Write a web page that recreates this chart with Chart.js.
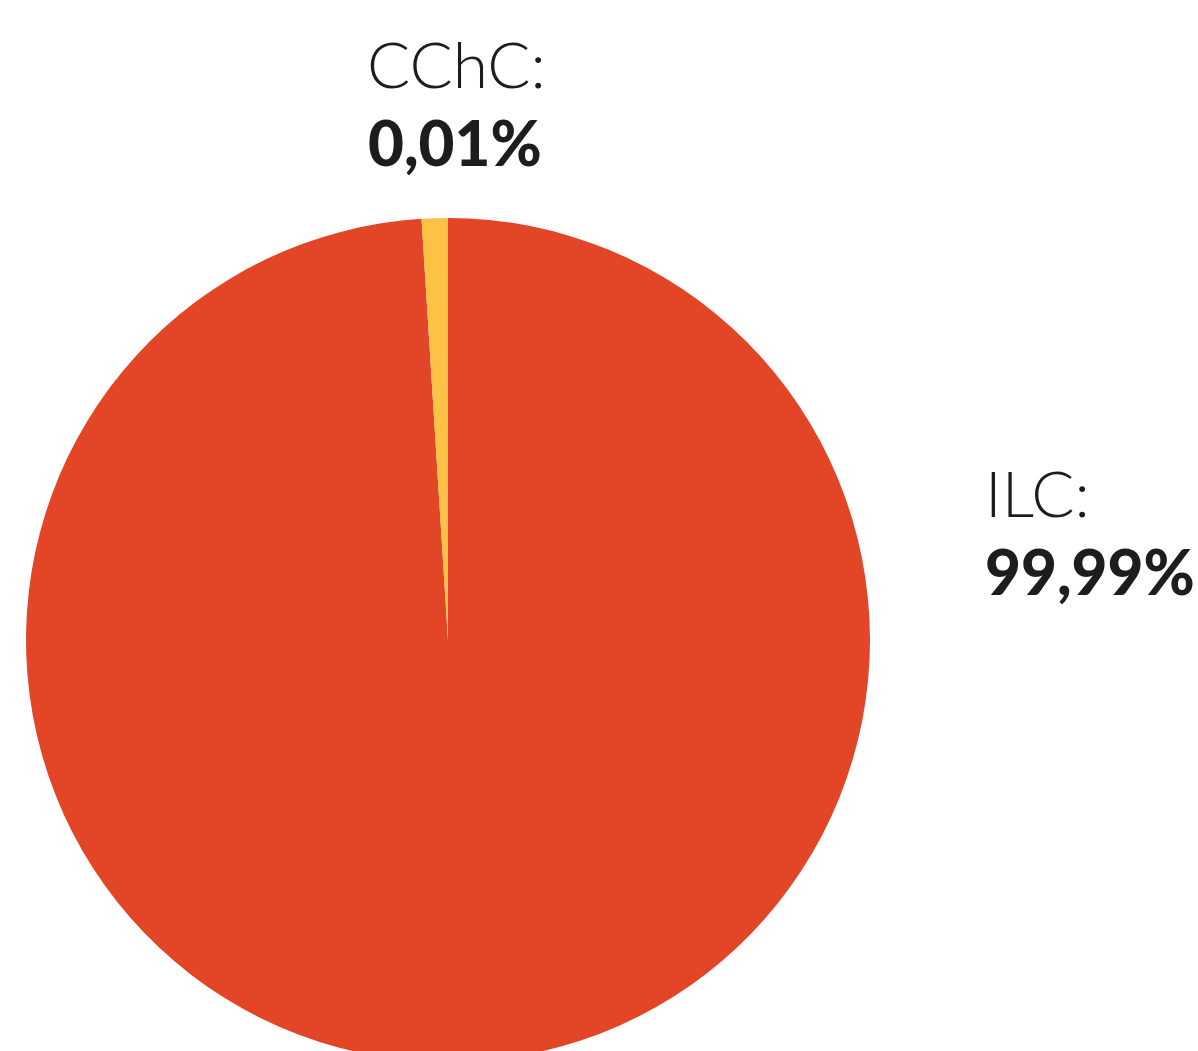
<!DOCTYPE html>
<html>
<head>
<meta charset="utf-8">
<script src="https://cdn.jsdelivr.net/npm/chart.js@4.4.0/dist/chart.umd.min.js"></script>
<style>
  html, body { margin: 0; padding: 0; background: #fff; overflow: hidden; }
  #wrap { width: 1198px; height: 1051px; overflow: hidden; }
  #wrap div { width: 1198px; height: 1080px; }
</style>
</head>
<body>
<div id="wrap"><div><canvas id="myChart"></canvas></div></div>
<script>
var labels = ['ILC', 'CChC'];
var dataValues = [99, 1];            // slice sizes as drawn in the picture
var shownPercent = ['99,99%', '0,01%']; // text printed next to the pie
var colors = ['#E34527', '#FCC245'];

var ctx = document.getElementById('myChart').getContext('2d');

var labelPlugin = {
    id: 'sliceLabels',
    afterDraw: function(chart) {
        var c = chart.ctx;
        var arc = chart.getDatasetMeta(0).data[0];
        var cx = arc.x, cy = arc.y, r = arc.outerRadius;
        c.save();
        c.fillStyle = '#1d1d1b';
        c.textAlign = 'left';
        c.textBaseline = 'alphabetic';
        // CChC above the top of the pie
        c.font = '300 64px Lato';
        c.fillText(labels[1] + ':', cx - 81, cy - r - 130);
        c.font = '900 62px Lato';
        c.fillText(shownPercent[1], cx - 80, cy - r - 52);
        // ILC to the right
        c.font = '300 64px Lato';
        c.fillText(labels[0] + ':', cx + r + 115, cy - 123);
        c.font = '900 62px Lato';
        c.fillText(shownPercent[0], cx + r + 115, cy - 45);
        c.restore();
    }
};

var myChart = new Chart(ctx, {
    type: 'pie',
    data: {
        labels: labels,
        datasets: [{
            data: dataValues,
            backgroundColor: colors,
            borderWidth: 0
        }]
    },
    options: {
        responsive: true,
        maintainAspectRatio: false,
        animation: false,
        layout: { padding: { left: 26, right: 328, top: 217, bottom: 17 } },
        plugins: {
            legend: { display: false },
            tooltip: { enabled: false }
        }
    },
    plugins: [labelPlugin]
});
</script>
</body>
</html>
